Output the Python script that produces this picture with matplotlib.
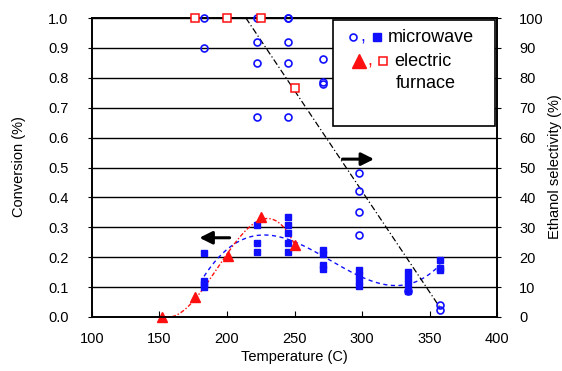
import matplotlib.pyplot as plt
import numpy as np
from matplotlib.patches import Rectangle

plt.rcParams['font.family'] = ['Liberation Sans', 'DejaVu Sans']

# microwave: conversion (filled squares, left axis)
mw_conv_T = [183, 183, 183, 183,
             222, 222, 222,
             245, 245, 245, 245, 245,
             271, 271, 271, 271,
             298, 298, 298, 298,
             334, 334, 334, 334,
             358, 358, 358]
mw_conv = [0.214, 0.122, 0.111, 0.101,
           0.308, 0.248, 0.217,
           0.335, 0.308, 0.280, 0.248, 0.217,
           0.225, 0.210, 0.175, 0.160,
           0.157, 0.140, 0.122, 0.104,
           0.150, 0.130, 0.110, 0.088,
           0.190, 0.163, 0.157]

# microwave: ethanol selectivity (open circles, right axis)
mw_sel_T = [183, 183, 222, 222, 222, 222, 245, 245, 245, 245, 245,
            271, 271, 271, 298, 298, 298, 298, 334, 358, 358]
mw_sel = [100, 90, 100, 92, 85, 67, 100, 100, 92, 85, 67,
          86.3, 78.6, 78, 48, 42, 35, 27.5, 8.7, 4, 2.5]

# electric furnace
ef_conv_T = [152, 176, 201, 225, 250]
ef_conv = [0.0, 0.067, 0.204, 0.334, 0.241]
ef_sel_T = [176, 200, 225, 250]
ef_sel = [100, 100, 100, 76.6]

# selectivity trend line end points (right axis)
sel_line_T = [214, 358]
sel_line = [100, 3]

blue = '#1010ff'
red = '#ff1010'

fig = plt.figure(figsize=(5.62, 3.71), dpi=100)
ax = fig.add_axes([92 / 562, 1 - 317 / 371, 405 / 562, 299 / 371])
ax2 = ax.twinx()

ax.set_xlim(100, 400)
ax.set_ylim(0, 1.0)
ax2.set_ylim(0, 100)
ax.set_xticks(np.arange(100, 401, 50))
ax.set_yticks(np.arange(0, 1.01, 0.1))
ax.set_yticklabels([f'{v:.1f}' for v in np.arange(0, 1.01, 0.1)])
ax2.set_yticks(np.arange(0, 101, 10))
ax.tick_params(axis='x', direction='in', length=4, pad=11, labelsize=10.5)
ax.tick_params(axis='y', direction='out', length=3, pad=14, labelsize=10.5)
ax2.tick_params(axis='y', direction='out', length=3, pad=13, labelsize=10.5)
for a in (ax, ax2):
    for s in a.spines.values():
        s.set_linewidth(1.2)

for v in np.arange(0.1, 1.01, 0.1):
    ax.axhline(v, color='black', lw=1.0, zorder=0)

# trend lines
p = np.polyfit(mw_conv_T, mw_conv, 3)
tt = np.linspace(min(mw_conv_T), max(mw_conv_T), 200)
ax.plot(tt, np.polyval(p, tt), '--', color=blue, lw=1, dashes=(3, 2.5))
p = np.polyfit(ef_conv_T, ef_conv, 3)
tt = np.linspace(min(ef_conv_T), max(ef_conv_T), 200)
ax.plot(tt, np.polyval(p, tt), color=red, lw=1, dashes=(3, 1.5, 1, 1.5))
ax2.plot(sel_line_T, sel_line, color='black', lw=0.9, dashes=(5, 2, 1, 2))

ax.plot(mw_conv_T, mw_conv, 's', color=blue, ms=5, mec=blue, clip_on=False, zorder=3)
ax.plot(ef_conv_T, ef_conv, '^', color=red, ms=7.5, mec=red, clip_on=False, zorder=3)
ax2.plot(mw_sel_T, mw_sel, 'o', mfc='none', mec=blue, ms=5, mew=1.2, clip_on=False, zorder=3)
ax2.plot(ef_sel_T, ef_sel, 's', mfc='white', mec=red, ms=6, mew=1.1, clip_on=False, zorder=3)

# arrows
ax.annotate('', xy=(177.5, 0.265), xytext=(204, 0.265),
            arrowprops=dict(arrowstyle='-|>', color='black', lw=2.2, mutation_scale=19))
ax.annotate('', xy=(311, 0.528), xytext=(283.5, 0.528),
            arrowprops=dict(arrowstyle='-|>', color='black', lw=2.2, mutation_scale=19))

# legend box
ax2.add_patch(Rectangle((0.595, 0.639), 0.4, 0.355, transform=ax.transAxes,
                        facecolor='white', edgecolor='black', lw=1.2, zorder=5, clip_on=False))

def px(x, y):
    return ((x - 92) / 405, (317 - y) / 299)

kw = dict(transform=ax.transAxes, clip_on=False, zorder=6)
ax2.plot(*px(353, 37), 'o', mfc='none', mec=blue, ms=5, mew=1.2, **kw)
ax2.text(*px(360, 41), ',', color=blue, fontsize=13, ha='left', va='baseline', transform=ax.transAxes, zorder=6)
ax2.plot(*px(377, 37), 's', color=blue, ms=6, **kw)
ax2.text(*px(388, 37), 'microwave', fontsize=13, ha='left', va='center', transform=ax.transAxes, zorder=6)
ax2.plot(*px(359, 61), '^', color=red, ms=10, **kw)
ax2.text(*px(367, 66), ',', color=red, fontsize=13, ha='left', va='baseline', transform=ax.transAxes, zorder=6)
ax2.plot(*px(383, 61), 's', mfc='white', mec=red, ms=6, mew=1.1, **kw)
ax2.text(*px(394, 61), 'electric', fontsize=13, ha='left', va='center', transform=ax.transAxes, zorder=6)
ax2.text(*px(396, 83), 'furnace', fontsize=13, ha='left', va='center', transform=ax.transAxes, zorder=6)

fig.text(19 / 562, 1 - 167 / 371, 'Conversion (%)', rotation=90, ha='center', va='center', fontsize=10.5)
fig.text(555 / 562, 1 - 167 / 371, 'Ethanol selectivity (%)', rotation=90, ha='center', va='center', fontsize=10.5)
fig.text(294 / 562, 1 - 357 / 371, 'Temperature (C)', ha='center', va='center', fontsize=10.5)

fig.savefig('out.png', dpi=100)
